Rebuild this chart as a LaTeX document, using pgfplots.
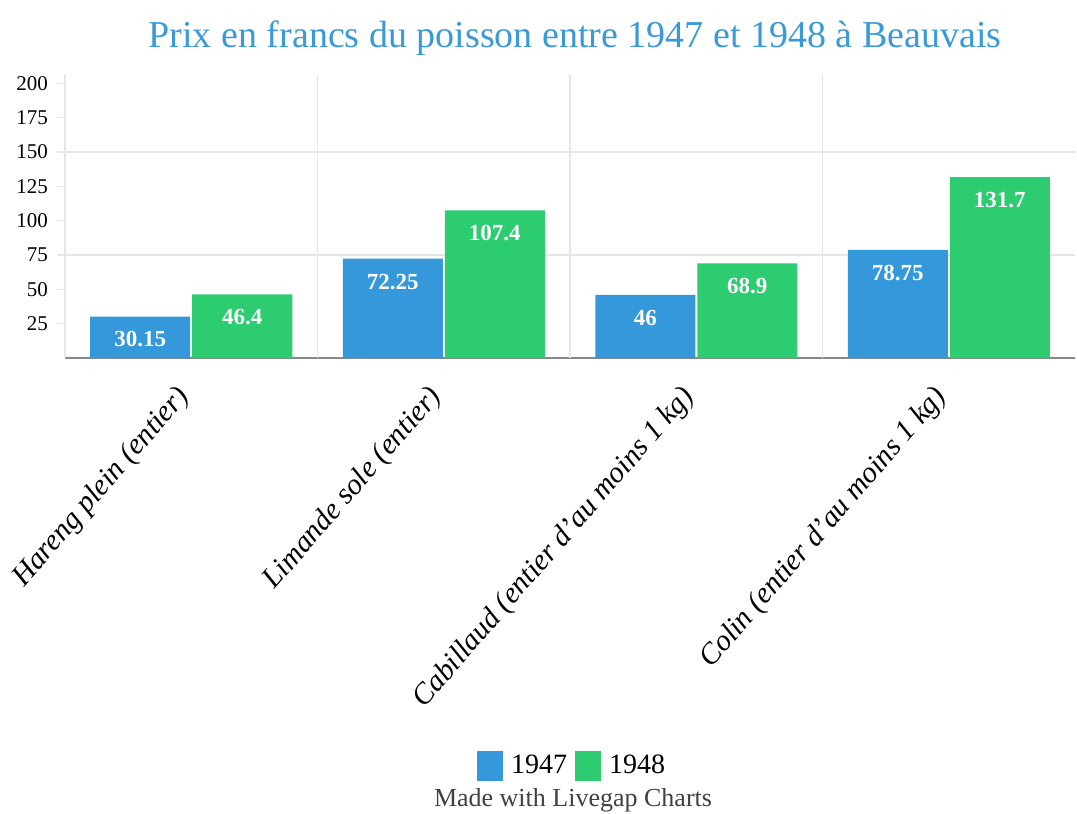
\documentclass[border=0pt]{standalone}
\usepackage{fontspec}
\setmainfont{Liberation Serif}
\usepackage{pgfplots}
\pgfplotsset{compat=1.18}
\definecolor{cblue}{HTML}{3498DB}
\definecolor{cgreen}{HTML}{2ECC71}
\definecolor{titleblue}{HTML}{3A9AD9}
\definecolor{gridgray}{HTML}{E6E6E6}
\definecolor{axgray}{HTML}{888888}
\begin{document}
\begin{tikzpicture}
\path[use as bounding box] (-32.5pt,-228pt) rectangle (506pt,179pt);
\begin{axis}[
  at={(0pt,0pt)}, anchor=south west,
  scale only axis,
  width=505pt, height=141.5pt,
  xmin=-0.5, xmax=3.5,
  ymin=0, ymax=206,
  ybar=1pt, bar width=50pt,
  axis x line*=bottom, axis y line*=left,
  axis line style={axgray, line width=0.8pt},
  ytick={25,50,...,200},
  yticklabel style={font=\fontsize{10.5}{11}\selectfont, xshift=-1pt},
  /pgf/number format/assume math mode=true,
  ytick style={gridgray, line width=0.6pt},
  tick align=outside,
  major tick length=4pt,
  xtick={0,1,2,3},
  xticklabels={Hareng plein (entier), Limande sole (entier), Cabillaud (entier d'au moins 1 kg), Colin (entier d'au moins 1 kg)},
  xticklabel style={rotate=49, anchor=north east, font=\fontsize{14.8}{15}\selectfont\itshape, inner sep=1pt, xshift=-11.2pt, yshift=1.8pt},
  x tick style={draw=none},
  extra x ticks={-0.5,0.5,1.5,2.5},
  extra x tick labels={},
  extra x tick style={grid=major, major grid style={gridgray, line width=0.6pt}, tick style={draw=gridgray}},
  extra y ticks={75,150},
  extra y tick labels={},
  extra y tick style={grid=major, major grid style={gridgray, line width=0.8pt}},
  nodes near coords,
  point meta=explicit symbolic,
  every node near coord/.append style={anchor=north, yshift=-4pt, text=white, font=\fontsize{11.5}{12}\selectfont\bfseries},
  legend style={at={(0.503,-1.44)}, anchor=center, legend columns=2, draw=none, font=\fontsize{14}{15}\selectfont, column sep=2pt, inner sep=0pt},
  legend image code/.code={\fill[#1] (0pt,-7.5pt) rectangle (13pt,7.5pt);},
  clip=false,
]
\addplot[fill=cblue, draw=none] coordinates {(0,30.15)[30.15] (1,72.25)[72.25] (2,46)[46] (3,78.75)[78.75]};
\addplot[fill=cgreen, draw=none] coordinates {(0,46.4)[46.4] (1,107.4)[107.4] (2,68.9)[68.9] (3,131.7)[131.7]};
\legend{1947,1948}
\end{axis}
\node[text=titleblue, font=\fontsize{19}{20}\selectfont] at (255pt,160pt) {Prix en francs du poisson entre 1947 et 1948 à Beauvais};
\node[text=black!75, font=\fontsize{13}{14}\selectfont] at (254pt,-221pt) {Made with Livegap Charts};
\end{tikzpicture}
\end{document}
